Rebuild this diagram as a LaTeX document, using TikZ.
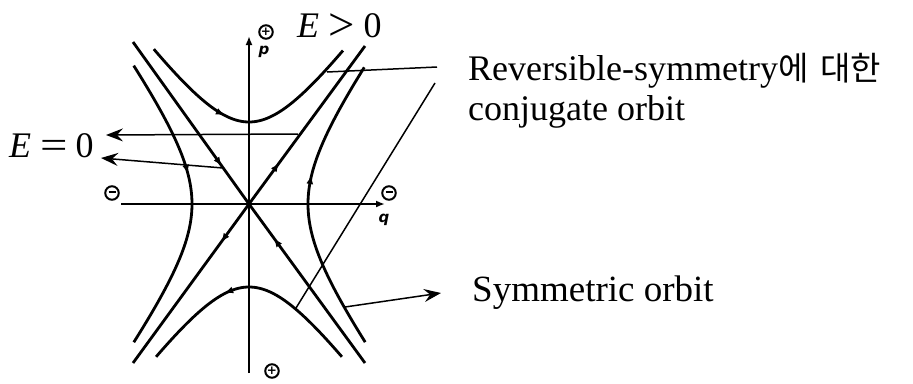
\documentclass[tikz,border=0pt]{standalone}
\usepackage{graphicx}
\usepackage{fontspec}
\setmainfont{Liberation Serif}
\newfontfamily\kr{Noto Sans CJK KR}
\newfontfamily\lab{DejaVu Sans}
\usetikzlibrary{arrows.meta,decorations.markings}
\tikzset{
  curve/.style={line width=2.8pt},
  axis/.style={line width=2.3pt,-{Latex[length=9pt,width=7pt]}},
  leader/.style={line width=1.5pt},
  leadarrow/.style={line width=1.5pt,-{Stealth[length=17pt,width=13pt,inset=6pt]}},
  fwd/.style={postaction={decorate},decoration={markings,mark=at position #1 with {\arrow{Latex[length=9pt,width=7pt]}}}},
  bwd/.style={postaction={decorate},decoration={markings,mark=at position #1 with {\arrow{Latex[reversed,length=9pt,width=7pt]}}}},
  sign/.style={circle,draw,line width=2pt,minimum size=13.5pt,inner sep=0pt,font=\lab\bfseries\fontsize{12}{12}\selectfont},
  axlabel/.style={font=\lab\bfseries\itshape\fontsize{15}{15}\selectfont,inner sep=0pt},
  txt/.style={font=\fontsize{36}{40}\selectfont,inner sep=0pt},
  txtb/.style={font=\fontsize{37}{42}\selectfont,inner sep=0pt}
}
\begin{document}
\begin{tikzpicture}[x=1pt,y=-1pt]
\useasboundingbox (0,0) rectangle (913,383);
% axes
\coordinate (O) at (249,204);
\coordinate (pbot) at (249,373);
\coordinate (ptop) at (249,36);
\coordinate (qleft) at (121,204);
\coordinate (qright) at (385,204);
\draw[axis] (pbot) -- (ptop);
\draw[axis] (qleft) -- (qright);
% separatrices
\coordinate (UL) at (133,42);
\coordinate (UR) at (365,46);
\coordinate (LL) at (133,363);
\coordinate (LR) at (365,363);
\draw[curve,bwd=0.28] (O) -- (UL);
\draw[curve,fwd=0.26] (O) -- (UR);
\draw[curve,fwd=0.24] (O) -- (LL);
\draw[curve,bwd=0.26] (O) -- (LR);
% hyperbolas
\draw[curve,fwd=0.40] plot[domain=-1.25:1.24,samples=80,variable=\t] ({249+59.4*sinh(\t)},{204-82*cosh(\t)});
\draw[curve,bwd=0.43] plot[domain=-1.22:1.22,samples=80,variable=\t] ({249+60.1*sinh(\t)},{204+83*cosh(\t)});
\draw[curve,fwd=0.40] plot[domain=-1.33:1.33,samples=80,variable=\t] ({249-57*cosh(\t)},{204+78.7*sinh(\t)});
\draw[curve,bwd=0.43] plot[domain=-1.29:1.30,samples=80,variable=\t] ({249+59*cosh(\t)},{204+81.4*sinh(\t)});
% signs and axis labels
\node[sign] (sp1) at (266,32) {+};
\node[axlabel] (plab) at (264,52) {p};
\node[sign] (sm1) at (112,193) {\rule[2.6pt]{7pt}{2.2pt}};
\node[sign] (sm2) at (389,193) {\rule[2.6pt]{7pt}{2.2pt}};
\node[axlabel] (qlab) at (384,220) {q};
\node[sign] (sp2) at (272,371) {+};
% texts
\node[txt,anchor=base west] (Egt) at (297,37) {\textit{E}\hspace{9pt}\raisebox{-3pt}{\scalebox{1.3}{>}}\hspace{9pt}0};
\node[txt,anchor=base west] (Eeq) at (9,157) {\textit{E}\hspace{9pt}\raisebox{-1pt}{\scalebox{1.35}[1.1]{=}}\hspace{8pt}0};
\node[txt,anchor=base west] (rev1) at (468,80) {Reversible-symmetry{\kr\fontsize{33}{36}\selectfont 에\hspace{12pt}대한}};
\node[txt,anchor=base west] (rev2) at (468,120) {conjugate orbit};
\node[txtb,anchor=base west] (sym) at (472,301) {Symmetric orbit};
% leaders
\coordinate (r1) at (437,67);
\coordinate (r1e) at (327,72);
\coordinate (r2) at (435,83);
\coordinate (r2e) at (296,308);
\coordinate (e1s) at (298,134);
\coordinate (e1t) at (106,135);
\coordinate (e2s) at (223,168);
\coordinate (e2t) at (101,158);
\coordinate (ss) at (345,307);
\coordinate (st) at (441,293);
\draw[leader] (r1) -- (r1e);
\draw[leader] (r2) -- (r2e);
\draw[leadarrow] (e1s) -- (e1t);
\draw[leadarrow] (e2s) -- (e2t);
\draw[leadarrow] (ss) -- (st);
\end{tikzpicture}
\end{document}
